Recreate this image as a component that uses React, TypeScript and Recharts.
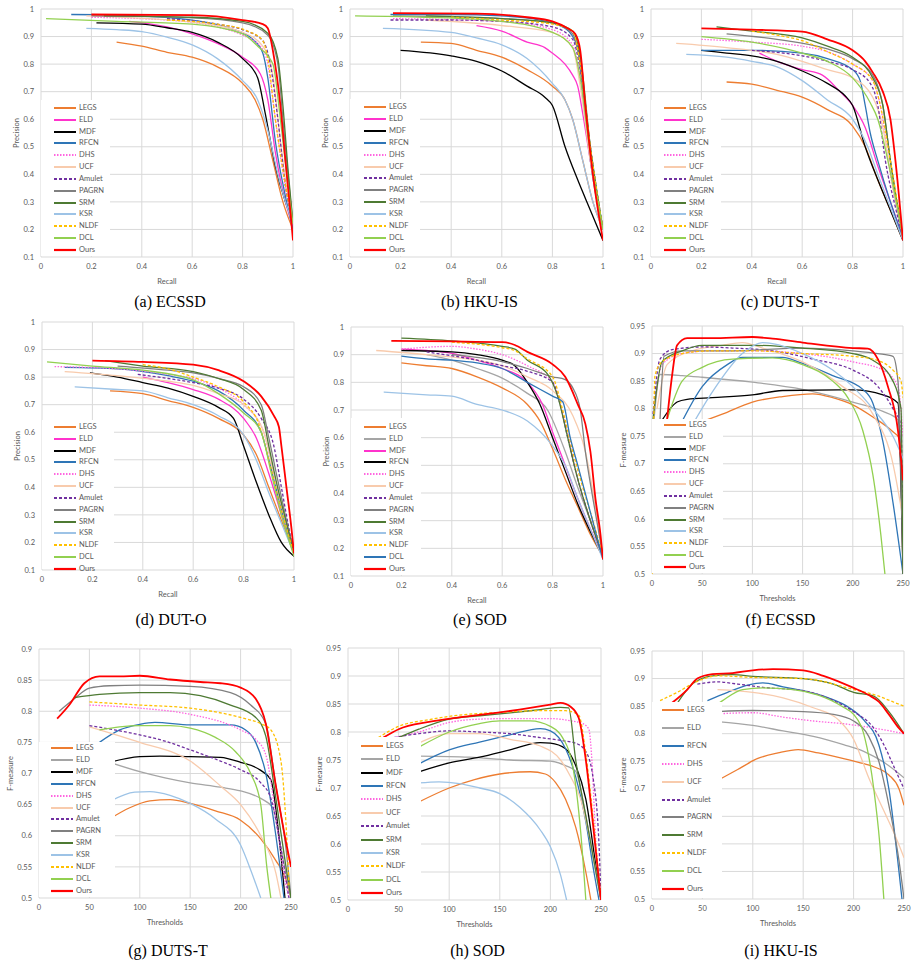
import { CartesianGrid, Line, LineChart, XAxis, YAxis } from "recharts";

type Pts = number[][];

// axis ticks
const prXTicks = [0, 0.2, 0.4, 0.6, 0.8, 1];
const prYTicks = [0.1, 0.2, 0.3, 0.4, 0.5, 0.6, 0.7, 0.8, 0.9, 1];
const fmXTicks = [0, 50, 100, 150, 200, 250];
const fmYTicks = [0.5, 0.55, 0.6, 0.65, 0.7, 0.75, 0.8, 0.85, 0.9, 0.95];
const fmYTicksDuts = [0.5, 0.55, 0.6, 0.65, 0.7, 0.75, 0.8, 0.85, 0.9];

// legend order (also draw order)
const methodsAll = ["LEGS", "ELD", "MDF", "RFCN", "DHS", "UCF", "Amulet", "PAGRN", "SRM", "KSR", "NLDF", "DCL", "Ours"];
const methodsSodF = ["LEGS", "ELD", "MDF", "RFCN", "DHS", "UCF", "Amulet", "SRM", "KSR", "NLDF", "DCL", "Ours"];
const methodsHkuF = ["LEGS", "ELD", "RFCN", "DHS", "UCF", "Amulet", "PAGRN", "SRM", "NLDF", "DCL", "Ours"];

// (a) ECSSD precision / recall
const prEcssd: Record<string, Pts> = {
  LEGS: [[0.3, 0.88], [0.4, 0.865], [0.5, 0.843], [0.6, 0.825], [0.7, 0.79], [0.8, 0.73], [0.85, 0.67], [0.88, 0.6], [0.92, 0.45], [0.96, 0.3], [1, 0.2]],
  ELD: [[0.35, 0.955], [0.5, 0.935], [0.6, 0.91], [0.7, 0.875], [0.8, 0.825], [0.87, 0.765], [0.9, 0.67], [0.93, 0.48], [0.97, 0.3], [1, 0.21]],
  MDF: [[0.22, 0.95], [0.4, 0.945], [0.5, 0.932], [0.6, 0.915], [0.7, 0.88], [0.8, 0.82], [0.86, 0.75], [0.89, 0.62], [0.93, 0.43], [0.97, 0.3], [1, 0.23]],
  RFCN: [[0.12, 0.98], [0.3, 0.978], [0.6, 0.96], [0.75, 0.93], [0.84, 0.89], [0.88, 0.84], [0.9, 0.75], [0.93, 0.52], [0.97, 0.32], [1, 0.2]],
  DHS: [[0.2, 0.97], [0.5, 0.96], [0.7, 0.935], [0.8, 0.905], [0.87, 0.865], [0.9, 0.8], [0.93, 0.6], [0.97, 0.35], [1, 0.22]],
  UCF: [[0.18, 0.975], [0.6, 0.952], [0.8, 0.915], [0.88, 0.865], [0.92, 0.76], [0.95, 0.52], [0.98, 0.32], [1, 0.22]],
  Amulet: [[0.5, 0.965], [0.7, 0.945], [0.8, 0.925], [0.88, 0.885], [0.91, 0.8], [0.94, 0.6], [0.97, 0.36], [1, 0.22]],
  PAGRN: [[0.2, 0.975], [0.6, 0.968], [0.8, 0.95], [0.9, 0.905], [0.94, 0.8], [0.96, 0.6], [0.98, 0.4], [1, 0.22]],
  SRM: [[0.25, 0.975], [0.6, 0.97], [0.8, 0.955], [0.9, 0.912], [0.94, 0.82], [0.96, 0.65], [0.98, 0.42], [1, 0.22]],
  KSR: [[0.18, 0.93], [0.3, 0.925], [0.4, 0.918], [0.5, 0.898], [0.6, 0.87], [0.7, 0.82], [0.8, 0.74], [0.86, 0.67], [0.9, 0.56], [0.94, 0.4], [0.97, 0.3], [1, 0.22]],
  NLDF: [[0.5, 0.96], [0.7, 0.945], [0.82, 0.92], [0.88, 0.885], [0.9, 0.82], [0.93, 0.6], [0.97, 0.36], [1, 0.22]],
  DCL: [[0.02, 0.965], [0.3, 0.955], [0.6, 0.945], [0.8, 0.91], [0.86, 0.865], [0.92, 0.8], [0.95, 0.6], [0.98, 0.36], [1, 0.22]],
  Ours: [[0.2, 0.98], [0.6, 0.978], [0.8, 0.96], [0.88, 0.945], [0.9, 0.93], [0.92, 0.85], [0.95, 0.65], [0.97, 0.45], [0.99, 0.26], [1, 0.16]],
};

// (b) HKU-IS precision / recall
const prHku: Record<string, Pts> = {
  LEGS: [[0.28, 0.88], [0.4, 0.875], [0.5, 0.85], [0.6, 0.825], [0.7, 0.78], [0.8, 0.72], [0.85, 0.67], [0.88, 0.6], [0.92, 0.45], [0.96, 0.3], [1, 0.2]],
  ELD: [[0.5, 0.94], [0.6, 0.92], [0.7, 0.88], [0.77, 0.86], [0.8, 0.84], [0.85, 0.8], [0.88, 0.76], [0.9, 0.72], [0.92, 0.62], [0.95, 0.45], [1, 0.2]],
  MDF: [[0.2, 0.85], [0.4, 0.83], [0.5, 0.81], [0.6, 0.775], [0.7, 0.72], [0.77, 0.68], [0.8, 0.65], [0.85, 0.5], [0.9, 0.38], [0.95, 0.27], [1, 0.16]],
  RFCN: [[0.16, 0.98], [0.4, 0.98], [0.6, 0.975], [0.75, 0.96], [0.85, 0.93], [0.9, 0.86], [0.92, 0.7], [0.95, 0.45], [1, 0.2]],
  DHS: [[0.17, 0.965], [0.6, 0.955], [0.8, 0.925], [0.88, 0.87], [0.91, 0.75], [0.95, 0.45], [1, 0.2]],
  UCF: [[0.3, 0.96], [0.6, 0.94], [0.8, 0.915], [0.88, 0.86], [0.91, 0.72], [0.95, 0.45], [1, 0.2]],
  Amulet: [[0.16, 0.96], [0.4, 0.96], [0.6, 0.955], [0.8, 0.935], [0.88, 0.89], [0.91, 0.78], [0.95, 0.5], [1, 0.2]],
  PAGRN: [[0.17, 0.975], [0.6, 0.965], [0.8, 0.95], [0.88, 0.91], [0.91, 0.8], [0.95, 0.5], [1, 0.2]],
  SRM: [[0.3, 0.975], [0.6, 0.965], [0.8, 0.95], [0.88, 0.92], [0.91, 0.83], [0.95, 0.5], [1, 0.2]],
  KSR: [[0.13, 0.93], [0.4, 0.915], [0.5, 0.895], [0.6, 0.87], [0.7, 0.82], [0.8, 0.73], [0.85, 0.67], [0.88, 0.6], [0.92, 0.45], [0.96, 0.3], [1, 0.2]],
  NLDF: [[0.4, 0.97], [0.6, 0.96], [0.8, 0.945], [0.88, 0.92], [0.91, 0.8], [0.95, 0.5], [1, 0.2]],
  DCL: [[0.02, 0.975], [0.3, 0.97], [0.6, 0.955], [0.8, 0.915], [0.88, 0.86], [0.91, 0.75], [0.95, 0.47], [1, 0.2]],
  Ours: [[0.17, 0.985], [0.5, 0.983], [0.7, 0.97], [0.8, 0.955], [0.86, 0.93], [0.89, 0.91], [0.91, 0.85], [0.93, 0.65], [0.96, 0.4], [1, 0.16]],
};

// (c) DUTS-T precision / recall
const prDuts: Record<string, Pts> = {
  LEGS: [[0.3, 0.735], [0.4, 0.727], [0.5, 0.705], [0.6, 0.68], [0.7, 0.635], [0.8, 0.575], [0.85, 0.5], [0.9, 0.38], [0.95, 0.27], [1, 0.16]],
  ELD: [[0.43, 0.84], [0.5, 0.81], [0.6, 0.78], [0.68, 0.76], [0.75, 0.7], [0.8, 0.65], [0.85, 0.57], [0.9, 0.43], [0.95, 0.3], [1, 0.17]],
  MDF: [[0.2, 0.85], [0.3, 0.84], [0.4, 0.83], [0.5, 0.81], [0.6, 0.775], [0.7, 0.73], [0.77, 0.685], [0.8, 0.65], [0.85, 0.5], [0.9, 0.38], [0.95, 0.27], [1, 0.16]],
  RFCN: [[0.2, 0.85], [0.4, 0.85], [0.6, 0.84], [0.7, 0.82], [0.8, 0.78], [0.83, 0.74], [0.85, 0.65], [0.87, 0.55], [0.9, 0.45], [0.95, 0.3], [1, 0.17]],
  DHS: [[0.2, 0.89], [0.4, 0.88], [0.6, 0.865], [0.7, 0.845], [0.8, 0.8], [0.88, 0.74], [0.91, 0.65], [0.95, 0.4], [1, 0.17]],
  UCF: [[0.1, 0.875], [0.3, 0.86], [0.5, 0.835], [0.6, 0.81], [0.7, 0.78], [0.8, 0.75], [0.88, 0.68], [0.92, 0.57], [0.96, 0.35], [1, 0.17]],
  Amulet: [[0.4, 0.85], [0.6, 0.83], [0.7, 0.81], [0.8, 0.78], [0.87, 0.73], [0.9, 0.65], [0.93, 0.45], [0.97, 0.28], [1, 0.17]],
  PAGRN: [[0.3, 0.91], [0.5, 0.89], [0.7, 0.855], [0.8, 0.82], [0.88, 0.76], [0.92, 0.65], [0.95, 0.45], [1, 0.17]],
  SRM: [[0.26, 0.935], [0.4, 0.92], [0.6, 0.895], [0.7, 0.865], [0.8, 0.825], [0.88, 0.75], [0.92, 0.65], [0.95, 0.45], [1, 0.17]],
  KSR: [[0.14, 0.835], [0.3, 0.825], [0.4, 0.81], [0.5, 0.79], [0.6, 0.74], [0.7, 0.67], [0.8, 0.6], [0.86, 0.5], [0.9, 0.4], [0.95, 0.28], [1, 0.16]],
  NLDF: [[0.4, 0.92], [0.5, 0.905], [0.6, 0.885], [0.7, 0.845], [0.8, 0.8], [0.88, 0.74], [0.91, 0.65], [0.95, 0.45], [1, 0.17]],
  DCL: [[0.2, 0.9], [0.4, 0.88], [0.6, 0.84], [0.7, 0.81], [0.8, 0.75], [0.87, 0.66], [0.9, 0.6], [0.94, 0.45], [1, 0.17]],
  Ours: [[0.2, 0.93], [0.4, 0.925], [0.6, 0.918], [0.7, 0.89], [0.8, 0.85], [0.85, 0.81], [0.88, 0.77], [0.92, 0.7], [0.95, 0.6], [0.97, 0.45], [1, 0.16]],
};

// (d) DUT-O precision / recall
const prDuto: Record<string, Pts> = {
  LEGS: [[0.27, 0.75], [0.4, 0.74], [0.5, 0.715], [0.6, 0.69], [0.7, 0.65], [0.8, 0.59], [0.85, 0.52], [0.9, 0.4], [0.95, 0.28], [1, 0.16]],
  ELD: [[0.4, 0.8], [0.5, 0.78], [0.6, 0.755], [0.7, 0.72], [0.8, 0.65], [0.85, 0.58], [0.9, 0.45], [0.95, 0.3], [1, 0.16]],
  MDF: [[0.19, 0.815], [0.3, 0.8], [0.4, 0.78], [0.5, 0.76], [0.6, 0.73], [0.7, 0.69], [0.76, 0.65], [0.8, 0.55], [0.85, 0.42], [0.9, 0.3], [0.95, 0.2], [1, 0.15]],
  RFCN: [[0.09, 0.835], [0.3, 0.83], [0.5, 0.805], [0.6, 0.785], [0.7, 0.75], [0.8, 0.68], [0.87, 0.6], [0.9, 0.5], [0.95, 0.32], [1, 0.16]],
  DHS: [[0.05, 0.838], [0.3, 0.83], [0.5, 0.81], [0.6, 0.795], [0.7, 0.76], [0.8, 0.7], [0.88, 0.6], [0.92, 0.45], [0.96, 0.3], [1, 0.16]],
  UCF: [[0.09, 0.82], [0.3, 0.805], [0.5, 0.785], [0.6, 0.77], [0.7, 0.74], [0.8, 0.7], [0.88, 0.6], [0.92, 0.45], [0.96, 0.3], [1, 0.16]],
  Amulet: [[0.38, 0.81], [0.5, 0.795], [0.6, 0.78], [0.7, 0.76], [0.8, 0.72], [0.87, 0.65], [0.92, 0.55], [0.95, 0.4], [0.98, 0.25], [1, 0.16]],
  PAGRN: [[0.3, 0.84], [0.5, 0.825], [0.6, 0.815], [0.7, 0.795], [0.8, 0.765], [0.87, 0.7], [0.9, 0.58], [0.93, 0.45], [0.97, 0.28], [1, 0.16]],
  SRM: [[0.25, 0.86], [0.4, 0.84], [0.6, 0.82], [0.7, 0.795], [0.8, 0.755], [0.87, 0.68], [0.9, 0.55], [0.93, 0.42], [0.97, 0.27], [1, 0.16]],
  KSR: [[0.13, 0.765], [0.3, 0.755], [0.4, 0.75], [0.5, 0.725], [0.6, 0.7], [0.7, 0.66], [0.8, 0.59], [0.85, 0.5], [0.9, 0.38], [0.95, 0.27], [1, 0.16]],
  NLDF: [[0.4, 0.845], [0.5, 0.83], [0.6, 0.8], [0.7, 0.765], [0.8, 0.71], [0.86, 0.63], [0.9, 0.5], [0.94, 0.35], [1, 0.16]],
  DCL: [[0.02, 0.855], [0.2, 0.84], [0.4, 0.825], [0.6, 0.79], [0.7, 0.74], [0.8, 0.67], [0.87, 0.6], [0.91, 0.45], [0.95, 0.3], [1, 0.15]],
  Ours: [[0.2, 0.86], [0.4, 0.855], [0.6, 0.845], [0.7, 0.825], [0.8, 0.785], [0.87, 0.73], [0.92, 0.66], [0.94, 0.62], [0.95, 0.55], [0.97, 0.4], [0.99, 0.25], [1, 0.16]],
};

// (e) SOD precision / recall
const prSod: Record<string, Pts> = {
  LEGS: [[0.2, 0.87], [0.3, 0.86], [0.4, 0.85], [0.5, 0.82], [0.6, 0.78], [0.7, 0.72], [0.75, 0.66], [0.8, 0.56], [0.85, 0.45], [0.9, 0.35], [0.95, 0.25], [1, 0.17]],
  ELD: [[0.3, 0.9], [0.4, 0.88], [0.5, 0.85], [0.6, 0.815], [0.7, 0.76], [0.78, 0.7], [0.85, 0.55], [0.9, 0.42], [0.95, 0.3], [1, 0.17]],
  MDF: [[0.2, 0.92], [0.3, 0.915], [0.4, 0.905], [0.5, 0.88], [0.6, 0.85], [0.7, 0.8], [0.76, 0.72], [0.8, 0.62], [0.85, 0.5], [0.9, 0.38], [0.95, 0.27], [1, 0.17]],
  RFCN: [[0.2, 0.915], [0.4, 0.91], [0.5, 0.9], [0.6, 0.88], [0.65, 0.86], [0.7, 0.8], [0.75, 0.72], [0.8, 0.6], [0.85, 0.48], [0.9, 0.36], [0.95, 0.26], [1, 0.17]],
  DHS: [[0.2, 0.92], [0.4, 0.93], [0.5, 0.92], [0.6, 0.9], [0.7, 0.86], [0.8, 0.8], [0.85, 0.65], [0.9, 0.45], [0.95, 0.3], [1, 0.17]],
  UCF: [[0.1, 0.915], [0.3, 0.9], [0.5, 0.88], [0.6, 0.86], [0.7, 0.82], [0.8, 0.77], [0.88, 0.68], [0.93, 0.55], [0.97, 0.35], [1, 0.17]],
  Amulet: [[0.3, 0.91], [0.5, 0.88], [0.6, 0.86], [0.7, 0.84], [0.8, 0.8], [0.83, 0.72], [0.86, 0.6], [0.9, 0.45], [0.95, 0.3], [1, 0.17]],
  PAGRN: [[0.4, 0.9], [0.6, 0.875], [0.7, 0.85], [0.8, 0.82], [0.85, 0.81], [0.88, 0.78], [0.91, 0.7], [0.93, 0.55], [0.96, 0.38], [1, 0.17]],
  SRM: [[0.2, 0.96], [0.4, 0.95], [0.6, 0.93], [0.65, 0.92], [0.7, 0.88], [0.78, 0.83], [0.82, 0.75], [0.86, 0.6], [0.9, 0.45], [0.95, 0.3], [1, 0.17]],
  KSR: [[0.13, 0.765], [0.3, 0.755], [0.4, 0.75], [0.5, 0.72], [0.6, 0.7], [0.7, 0.66], [0.8, 0.57], [0.85, 0.5], [0.9, 0.38], [0.95, 0.27], [1, 0.16]],
  NLDF: [[0.4, 0.945], [0.6, 0.925], [0.65, 0.915], [0.7, 0.885], [0.8, 0.82], [0.84, 0.7], [0.88, 0.55], [0.92, 0.42], [0.96, 0.3], [1, 0.17]],
  DCL: [[0.2, 0.895], [0.3, 0.885], [0.4, 0.88], [0.5, 0.87], [0.6, 0.85], [0.7, 0.8], [0.8, 0.75], [0.84, 0.73], [0.87, 0.6], [0.9, 0.5], [0.95, 0.33], [1, 0.16]],
  Ours: [[0.16, 0.95], [0.4, 0.948], [0.6, 0.945], [0.65, 0.935], [0.7, 0.91], [0.8, 0.865], [0.85, 0.82], [0.9, 0.72], [0.93, 0.65], [0.95, 0.55], [0.97, 0.38], [0.99, 0.25], [1, 0.16]],
};

// (f) ECSSD F-measure / threshold
const fmEcssd: Record<string, Pts> = {
  LEGS: [[40, 0.77], [70, 0.79], [100, 0.812], [130, 0.822], [160, 0.827], [180, 0.82], [200, 0.807], [220, 0.785], [240, 0.758], [247, 0.745], [250, 0.5]],
  ELD: [[2, 0.78], [8, 0.862], [30, 0.86], [50, 0.857], [100, 0.848], [150, 0.835], [200, 0.812], [230, 0.795], [245, 0.78], [250, 0.5]],
  MDF: [[9, 0.776], [25, 0.812], [35, 0.817], [60, 0.82], [100, 0.825], [130, 0.833], [200, 0.834], [230, 0.825], [245, 0.81], [250, 0.5]],
  RFCN: [[28, 0.77], [50, 0.84], [75, 0.88], [90, 0.893], [130, 0.893], [150, 0.882], [180, 0.86], [210, 0.835], [220, 0.81], [230, 0.74], [240, 0.63], [250, 0.5]],
  DHS: [[2, 0.8], [10, 0.88], [30, 0.9], [60, 0.905], [100, 0.905], [150, 0.9], [200, 0.885], [230, 0.87], [245, 0.84], [250, 0.75]],
  UCF: [[5, 0.8], [15, 0.88], [40, 0.905], [70, 0.915], [90, 0.92], [110, 0.91], [150, 0.885], [190, 0.84], [220, 0.79], [240, 0.7], [250, 0.6]],
  Amulet: [[1, 0.79], [8, 0.89], [20, 0.907], [50, 0.912], [80, 0.91], [120, 0.905], [160, 0.89], [200, 0.87], [225, 0.84], [240, 0.8], [248, 0.77], [250, 0.5]],
  PAGRN: [[8, 0.78], [12, 0.895], [30, 0.905], [80, 0.905], [150, 0.91], [200, 0.905], [225, 0.9], [240, 0.895], [245, 0.85], [250, 0.5]],
  SRM: [[1, 0.78], [10, 0.885], [30, 0.905], [50, 0.915], [100, 0.915], [150, 0.91], [200, 0.9], [220, 0.888], [240, 0.85], [248, 0.8], [250, 0.5]],
  KSR: [[40, 0.77], [60, 0.83], [90, 0.9], [110, 0.92], [120, 0.918], [150, 0.9], [180, 0.87], [200, 0.84], [220, 0.8], [240, 0.75], [250, 0.71]],
  NLDF: [[0, 0.5], [3, 0.86], [10, 0.885], [30, 0.9], [60, 0.905], [100, 0.905], [150, 0.9], [200, 0.895], [220, 0.89], [240, 0.87], [248, 0.85], [250, 0.82]],
  DCL: [[15, 0.78], [30, 0.85], [50, 0.875], [80, 0.89], [120, 0.892], [150, 0.88], [180, 0.85], [195, 0.82], [210, 0.76], [220, 0.68], [228, 0.57], [232, 0.5]],
  Ours: [[15, 0.78], [20, 0.86], [25, 0.915], [35, 0.928], [60, 0.928], [100, 0.93], [120, 0.927], [150, 0.92], [200, 0.91], [215, 0.909], [225, 0.89], [235, 0.84], [245, 0.76], [250, 0.67]],
};

// (g) DUTS-T F-measure / threshold
const fmDuts: Record<string, Pts> = {
  LEGS: [[70, 0.627], [90, 0.645], [110, 0.656], [130, 0.658], [150, 0.652], [175, 0.64], [200, 0.625], [220, 0.595], [235, 0.56], [245, 0.53], [250, 0.5]],
  ELD: [[70, 0.718], [100, 0.703], [125, 0.693], [150, 0.685], [180, 0.678], [200, 0.672], [220, 0.66], [232, 0.645], [240, 0.58], [250, 0.5]],
  MDF: [[70, 0.718], [100, 0.727], [120, 0.728], [150, 0.727], [180, 0.726], [200, 0.718], [220, 0.705], [230, 0.69], [238, 0.6], [244, 0.5]],
  RFCN: [[60, 0.75], [80, 0.77], [100, 0.779], [115, 0.782], [150, 0.778], [190, 0.778], [205, 0.77], [215, 0.75], [225, 0.7], [235, 0.6], [243, 0.5]],
  DHS: [[50, 0.81], [100, 0.805], [150, 0.795], [200, 0.77], [215, 0.755], [225, 0.73], [235, 0.63], [245, 0.52], [248, 0.5]],
  UCF: [[50, 0.775], [100, 0.75], [150, 0.72], [180, 0.68], [200, 0.65], [220, 0.6], [235, 0.54], [240, 0.5]],
  Amulet: [[50, 0.777], [75, 0.77], [100, 0.762], [125, 0.752], [150, 0.738], [180, 0.72], [200, 0.706], [220, 0.685], [230, 0.66], [240, 0.58], [248, 0.5]],
  PAGRN: [[20, 0.8], [35, 0.82], [50, 0.837], [70, 0.841], [100, 0.842], [150, 0.84], [190, 0.83], [210, 0.81], [225, 0.78], [235, 0.68], [245, 0.58], [250, 0.5]],
  SRM: [[35, 0.822], [60, 0.827], [100, 0.83], [130, 0.83], [160, 0.825], [190, 0.81], [215, 0.79], [225, 0.76], [235, 0.66], [245, 0.55], [250, 0.5]],
  KSR: [[70, 0.655], [95, 0.67], [110, 0.671], [130, 0.665], [150, 0.652], [175, 0.627], [200, 0.585], [210, 0.545], [220, 0.5]],
  NLDF: [[50, 0.815], [100, 0.81], [150, 0.805], [200, 0.79], [220, 0.78], [230, 0.77], [240, 0.72], [245, 0.62], [248, 0.52]],
  DCL: [[60, 0.77], [80, 0.775], [100, 0.777], [130, 0.777], [150, 0.773], [175, 0.758], [195, 0.735], [210, 0.7], [220, 0.65], [226, 0.55], [230, 0.5]],
  Ours: [[18, 0.788], [30, 0.81], [45, 0.845], [60, 0.856], [80, 0.856], [100, 0.857], [130, 0.851], [160, 0.847], [180, 0.845], [200, 0.838], [215, 0.82], [225, 0.78], [235, 0.68], [245, 0.59], [250, 0.55]],
};

// (h) SOD F-measure / threshold
const fmSod: Record<string, Pts> = {
  LEGS: [[70, 0.675], [100, 0.7], [125, 0.715], [150, 0.725], [180, 0.729], [195, 0.725], [205, 0.71], [215, 0.68], [225, 0.63], [235, 0.55], [240, 0.5]],
  ELD: [[70, 0.757], [120, 0.755], [160, 0.75], [200, 0.748], [215, 0.74], [225, 0.73], [235, 0.65], [245, 0.55], [250, 0.5]],
  MDF: [[70, 0.729], [100, 0.745], [130, 0.755], [160, 0.768], [190, 0.781], [200, 0.78], [215, 0.77], [225, 0.74], [235, 0.68], [245, 0.56], [250, 0.5]],
  RFCN: [[70, 0.743], [100, 0.768], [130, 0.782], [160, 0.795], [190, 0.806], [200, 0.802], [215, 0.77], [225, 0.72], [235, 0.64], [243, 0.55], [248, 0.5]],
  DHS: [[45, 0.79], [70, 0.8], [100, 0.817], [130, 0.823], [160, 0.824], [200, 0.824], [220, 0.82], [232, 0.815], [238, 0.805], [241, 0.75], [245, 0.6], [250, 0.52]],
  UCF: [[70, 0.78], [100, 0.797], [130, 0.797], [160, 0.787], [190, 0.775], [210, 0.75], [220, 0.72], [230, 0.68], [240, 0.6], [250, 0.5]],
  Amulet: [[45, 0.79], [70, 0.797], [100, 0.802], [130, 0.8], [160, 0.797], [190, 0.79], [210, 0.785], [225, 0.78], [235, 0.765], [242, 0.72], [248, 0.6], [250, 0.5]],
  SRM: [[50, 0.79], [70, 0.805], [100, 0.823], [130, 0.829], [160, 0.834], [190, 0.84], [210, 0.844], [218, 0.843], [225, 0.75], [235, 0.65], [245, 0.55], [250, 0.5]],
  KSR: [[70, 0.709], [90, 0.711], [110, 0.708], [130, 0.7], [150, 0.69], [170, 0.665], [190, 0.625], [200, 0.595], [210, 0.545], [216, 0.5]],
  NLDF: [[30, 0.79], [50, 0.81], [80, 0.822], [100, 0.828], [150, 0.835], [190, 0.838], [215, 0.838], [228, 0.83], [235, 0.76], [242, 0.65], [250, 0.5]],
  DCL: [[70, 0.773], [100, 0.8], [130, 0.815], [150, 0.82], [180, 0.82], [200, 0.81], [212, 0.79], [222, 0.74], [230, 0.62], [235, 0.5]],
  Ours: [[35, 0.79], [50, 0.805], [80, 0.818], [110, 0.826], [150, 0.835], [180, 0.843], [200, 0.849], [210, 0.852], [220, 0.845], [228, 0.825], [235, 0.75], [243, 0.62], [250, 0.5]],
};

// (i) HKU-IS F-measure / threshold
const fmHku: Record<string, Pts> = {
  LEGS: [[65, 0.715], [85, 0.735], [105, 0.755], [125, 0.765], [145, 0.771], [165, 0.765], [185, 0.757], [205, 0.748], [220, 0.74], [235, 0.725], [245, 0.7], [250, 0.67]],
  ELD: [[65, 0.822], [100, 0.815], [130, 0.805], [160, 0.795], [190, 0.78], [210, 0.768], [230, 0.748], [250, 0.72]],
  RFCN: [[55, 0.86], [75, 0.875], [95, 0.888], [110, 0.892], [130, 0.885], [150, 0.878], [175, 0.865], [195, 0.848], [210, 0.825], [225, 0.78], [235, 0.7], [245, 0.55], [248, 0.5]],
  DHS: [[65, 0.836], [100, 0.838], [130, 0.83], [160, 0.823], [190, 0.818], [210, 0.813], [230, 0.807], [250, 0.8]],
  UCF: [[65, 0.88], [100, 0.875], [130, 0.865], [160, 0.847], [185, 0.825], [200, 0.79], [215, 0.72], [230, 0.66], [240, 0.62], [250, 0.575]],
  Amulet: [[45, 0.89], [65, 0.894], [85, 0.89], [110, 0.884], [150, 0.878], [180, 0.86], [200, 0.84], [220, 0.81], [230, 0.78], [240, 0.74], [250, 0.7]],
  PAGRN: [[65, 0.84], [100, 0.842], [150, 0.84], [180, 0.835], [200, 0.823], [215, 0.795], [225, 0.75], [235, 0.67], [245, 0.57], [250, 0.5]],
  SRM: [[25, 0.855], [40, 0.89], [60, 0.905], [80, 0.907], [100, 0.904], [150, 0.9], [180, 0.89], [200, 0.875], [220, 0.868], [235, 0.84], [250, 0.8]],
  NLDF: [[8, 0.86], [25, 0.875], [45, 0.895], [65, 0.905], [100, 0.902], [150, 0.9], [200, 0.88], [225, 0.868], [240, 0.857], [250, 0.85]],
  DCL: [[55, 0.84], [70, 0.86], [90, 0.88], [110, 0.883], [140, 0.88], [165, 0.87], [190, 0.848], [200, 0.835], [210, 0.8], [220, 0.7], [226, 0.6], [230, 0.5]],
  Ours: [[20, 0.856], [35, 0.88], [45, 0.9], [60, 0.908], [80, 0.91], [100, 0.915], [120, 0.917], [150, 0.915], [170, 0.905], [200, 0.883], [215, 0.87], [225, 0.858], [235, 0.835], [245, 0.81], [250, 0.8]],
};

type LineStyle = { stroke: string; dash?: string; width?: number };

const baseStyle: Record<string, LineStyle> = {
  LEGS: { stroke: "#ED7D31" },
  ELD: { stroke: "#FF33CC" },
  MDF: { stroke: "#000000" },
  RFCN: { stroke: "#2E75B6" },
  DHS: { stroke: "#FF66E0", dash: "1.5 1.5" },
  UCF: { stroke: "#F8CBAD" },
  Amulet: { stroke: "#7030A0", dash: "3 2" },
  PAGRN: { stroke: "#808080" },
  SRM: { stroke: "#4E7A33" },
  KSR: { stroke: "#9DC3E6" },
  NLDF: { stroke: "#FFC000", dash: "3 2" },
  DCL: { stroke: "#92D050" },
  Ours: { stroke: "#FF0000", width: 1.8 },
};
const sodPrStyle: Record<string, LineStyle> = {
  ...baseStyle,
  ELD: { stroke: "#A5A5A5" },
  MDF: { stroke: "#FF33CC" },
  RFCN: { stroke: "#000000" },
  DCL: { stroke: "#2E75B6" },
};
const fmStyle: Record<string, LineStyle> = { ...baseStyle, ELD: { stroke: "#A5A5A5" } };

type LegendPos = { first: number; step: number; boxTop: number; boxW: number; sx: number };
type PanelCfg = {
  caption: string;
  kind: "pr" | "fm";
  series: Record<string, Pts>;
  order: string[];
  styles: Record<string, LineStyle>;
  plot: [number, number, number, number];
  yTicks: number[];
  captionY: number;
  legend: LegendPos;
};

const panels: PanelCfg[] = [
  { caption: "(a) ECSSD", kind: "pr", series: prEcssd, order: methodsAll, styles: baseStyle, plot: [41, 9, 293, 257], yTicks: prYTicks, captionY: 302, legend: { first: 99, step: 11.83, boxTop: 91, boxW: 69, sx: 13 } },
  { caption: "(b) HKU-IS", kind: "pr", series: prHku, order: methodsAll, styles: baseStyle, plot: [350, 9, 603, 257], yTicks: prYTicks, captionY: 302, legend: { first: 98, step: 11.9, boxTop: 90, boxW: 70, sx: 14 } },
  { caption: "(c) DUTS-T", kind: "pr", series: prDuts, order: methodsAll, styles: baseStyle, plot: [651, 9, 903, 257], yTicks: prYTicks, captionY: 302, legend: { first: 99, step: 11.83, boxTop: 91, boxW: 70, sx: 13 } },
  { caption: "(d) DUT-O", kind: "pr", series: prDuto, order: methodsAll, styles: baseStyle, plot: [42, 322, 294, 570], yTicks: prYTicks, captionY: 620, legend: { first: 105, step: 11.83, boxTop: 98, boxW: 72, sx: 12 } },
  { caption: "(e) SOD", kind: "pr", series: prSod, order: methodsAll, styles: sodPrStyle, plot: [351, 327, 603, 576], yTicks: prYTicks, captionY: 620, legend: { first: 100, step: 11.83, boxTop: 91, boxW: 70, sx: 13 } },
  { caption: "(f) ECSSD", kind: "fm", series: fmEcssd, order: methodsAll, styles: fmStyle, plot: [652, 326, 903, 574], yTicks: fmYTicks, captionY: 620, legend: { first: 99, step: 11.83, boxTop: 93, boxW: 71, sx: 12 } },
  { caption: "(g) DUTS-T", kind: "fm", series: fmDuts, order: methodsAll, styles: fmStyle, plot: [39, 649, 291, 898], yTicks: fmYTicksDuts, captionY: 951, legend: { first: 99, step: 11.9, boxTop: 93, boxW: 76, sx: 12 } },
  { caption: "(h) SOD", kind: "fm", series: fmSod, order: methodsSodF, styles: fmStyle, plot: [348, 648, 601, 900], yTicks: fmYTicks, captionY: 951, legend: { first: 98, step: 13.36, boxTop: 89, boxW: 73, sx: 13 } },
  { caption: "(i) HKU-IS", kind: "fm", series: fmHku, order: methodsHkuF, styles: fmStyle, plot: [652, 651, 904, 899], yTicks: fmYTicks, captionY: 951, legend: { first: 59, step: 17.9, boxTop: 51, boxW: 70, sx: 10 } },
];

const FONT = "Lato, 'Open Sans', sans-serif";
const TEXT = "#595959";
const Y_W = 40;
const M_TOP = 8;
const M_RIGHT = 12;
const X_H = 30;

function Panel({ cfg }: { cfg: PanelCfg }) {
  const [l, t, r, b] = cfg.plot;
  const w = r - l + Y_W + M_RIGHT;
  const h = b - t + M_TOP + X_H;
  const isPr = cfg.kind === "pr";
  const yTicks = cfg.yTicks;
  const lg = cfg.legend;
  const tick = { fontSize: 7.5, fill: TEXT, fontFamily: FONT };

  return (
    <>
      <div style={{ position: "absolute", left: l - Y_W, top: t - M_TOP }}>
        <LineChart width={w} height={h} margin={{ top: M_TOP, right: M_RIGHT, left: 0, bottom: 0 }}>
          <CartesianGrid stroke="#D9D9D9" strokeWidth={1} />
          <XAxis
            type="number"
            dataKey="x"
            domain={isPr ? [0, 1] : [0, 250]}
            ticks={isPr ? prXTicks : fmXTicks}
            allowDataOverflow
            axisLine={false}
            tickLine={false}
            tickSize={0}
            tickMargin={7}
            height={X_H}
            tick={tick}
            label={{ value: isPr ? "Recall" : "Thresholds", position: "insideBottom", offset: 3, fontSize: 7.5, fill: TEXT, fontFamily: FONT }}
          />
          <YAxis
            type="number"
            domain={[yTicks[0], yTicks[yTicks.length - 1]]}
            ticks={yTicks}
            allowDataOverflow
            axisLine={false}
            tickLine={false}
            tickSize={0}
            tickMargin={7}
            width={Y_W}
            tick={tick}
            label={{
              value: isPr ? "Precision" : "F-measure",
              angle: -90,
              position: "insideLeft",
              offset: isPr ? 15 : 11,
              fontSize: 7.5,
              fill: TEXT,
              fontFamily: FONT,
              style: { textAnchor: "middle" },
            }}
          />
          {cfg.order.map((m) => {
            const s = cfg.styles[m];
            return (
              <Line
                key={m}
                data={cfg.series[m].map(([x, y]) => ({ x, y }))}
                dataKey="y"
                type="monotone"
                stroke={s.stroke}
                strokeWidth={s.width ?? 1.3}
                strokeDasharray={s.dash}
                dot={false}
                activeDot={false}
                isAnimationActive={false}
              />
            );
          })}
        </LineChart>
      </div>
      {/* legend box sits over the lines, like the original */}
      <div
        style={{
          position: "absolute",
          left: l,
          top: t + lg.boxTop,
          width: lg.boxW,
          height: b - t - lg.boxTop - 1,
          background: "#fff",
        }}
      >
        {cfg.order.map((m, i) => {
          const s = cfg.styles[m];
          return (
            <div
              key={m}
              style={{
                position: "absolute",
                left: lg.sx,
                top: lg.first - lg.boxTop + i * lg.step - 5,
                height: 10,
                display: "flex",
                alignItems: "center",
                whiteSpace: "nowrap",
              }}
            >
              <svg width={22} height={4} style={{ display: "block" }}>
                <line x1={0} y1={2} x2={22} y2={2} stroke={s.stroke} strokeWidth={m === "Ours" ? 2.2 : 2} strokeDasharray={s.dash} />
              </svg>
              <span style={{ marginLeft: 3, fontSize: 7.5, color: TEXT, fontFamily: FONT, lineHeight: "10px" }}>{m}</span>
            </div>
          );
        })}
      </div>
      <div
        style={{
          position: "absolute",
          left: (l + r) / 2 + 3 - 100,
          width: 200,
          top: cfg.captionY - 10,
          height: 20,
          lineHeight: "20px",
          textAlign: "center",
          fontFamily: "'Liberation Serif', 'Times New Roman', serif",
          fontSize: 16,
          color: "#000",
        }}
      >
        {cfg.caption}
      </div>
    </>
  );
}

export default function App() {
  return (
    <div style={{ position: "absolute", left: 0, top: 0, width: 917, height: 965, background: "#fff", overflow: "hidden" }}>
      {panels.map((p) => (
        <Panel key={p.caption} cfg={p} />
      ))}
    </div>
  );
}
